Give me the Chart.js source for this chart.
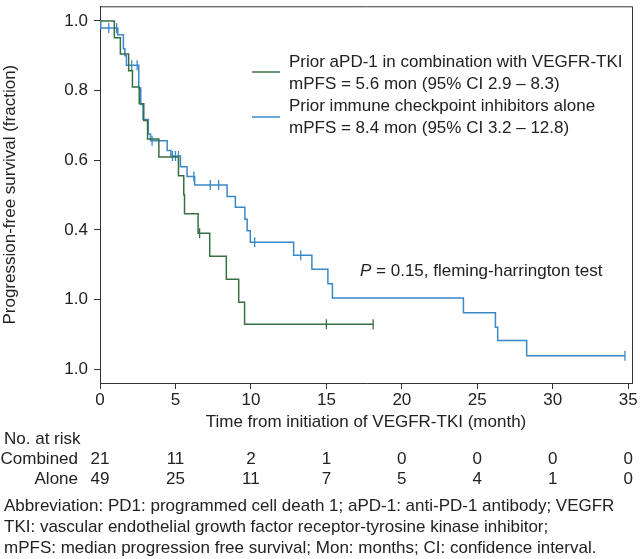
<!DOCTYPE html>
<html>
<head>
<meta charset="utf-8">
<script src="https://cdn.jsdelivr.net/npm/chart.js@4"></script>
<style>
  html, body { margin: 0; padding: 0; background: #fff; }
  #wrap { width: 640px; height: 559px; position: relative; }
</style>
</head>
<body>
<div id="wrap"><canvas id="km_chart"></canvas></div>
<script>
// Kaplan-Meier steps
const comboTimes = [0, 0.95, 1.35, 1.9, 2.15, 2.6, 2.9, 3.15, 3.9, 5.2, 5.55, 5.6, 6.5, 7.27, 8.37, 9.19, 9.58, 18.1];
const comboSurv = [1.0, 0.952, 0.905, 0.857, 0.81, 0.762, 0.714, 0.661, 0.609, 0.555, 0.501, 0.446, 0.39, 0.324, 0.258, 0.192, 0.129, 0.129];
const comboCensorTimes = [6.6, 15.0, 18.1];
const comboCensorSurv = [0.39, 0.129, 0.129];

const aloneTimes = [0, 0.05, 1.18, 1.55, 1.65, 1.75, 2.57, 2.7, 2.85, 3.2, 3.35, 4.45, 4.7, 5.33, 5.77, 6.27, 8.42, 8.97, 9.6, 9.75, 9.96, 12.83, 14.04, 15.1, 15.4, 24.08, 26.2, 26.35, 28.27, 34.78];
const aloneSurv = [1.0, 0.98, 0.96, 0.92, 0.9, 0.873, 0.807, 0.76, 0.717, 0.675, 0.656, 0.628, 0.612, 0.581, 0.553, 0.529, 0.496, 0.465, 0.43, 0.397, 0.364, 0.327, 0.287, 0.245, 0.204, 0.162, 0.12, 0.082, 0.038, 0.038];
const aloneCensorTimes = [0.58, 1.1, 2.1, 2.46, 3.45, 4.8, 5.0, 5.2, 6.22, 7.31, 7.86, 10.25, 13.3, 34.78];
const aloneCensorSurv = [0.98, 0.98, 0.873, 0.873, 0.656, 0.612, 0.612, 0.612, 0.553, 0.529, 0.529, 0.364, 0.327, 0.038];

// axis ticks (y labels are printed as in the original figure)
const xTicks = [0, 5, 10, 15, 20, 25, 30, 35];
const yTickValues = [0, 0.2, 0.4, 0.6, 0.8, 1.0];
const yTickLabels = ['1.0', '1.0', '0.4', '0.6', '0.8', '1.0'];

// number at risk table
const riskTimes = [0, 5, 10, 15, 20, 25, 30, 35];
const combinedAtRisk = [21, 11, 2, 1, 0, 0, 0, 0];
const aloneAtRisk = [49, 25, 11, 7, 5, 4, 1, 0];

const greenColor = '#386e44';
const blueColor = '#3a88c8';
const fontFamily = '"Liberation Sans", Arial, sans-serif';
const fontSize = 17;

function toPoints(xs, ys) {
    return xs.map((x, i) => ({ x: x, y: ys[i] }));
}

/**
 * draws frame, legend, p-value, risk table and footnote
 */
const extrasPlugin = {
    id: 'extras',
    afterDraw(chart) {
        const ctx = chart.ctx;
        const area = chart.chartArea;
        const xScale = chart.scales.x;
        ctx.save();
        // top and right frame
        ctx.strokeStyle = '#333';
        ctx.lineWidth = 1;
        ctx.beginPath();
        ctx.moveTo(area.left, area.top + 0.5);
        ctx.lineTo(area.right + 0.5, area.top + 0.5);
        ctx.lineTo(area.right + 0.5, area.bottom);
        ctx.stroke();

        // legend
        ctx.font = fontSize + 'px ' + fontFamily;
        ctx.fillStyle = '#222';
        ctx.textBaseline = 'middle';
        ctx.textAlign = 'left';
        ctx.lineWidth = 1.5;
        ctx.strokeStyle = greenColor;
        ctx.beginPath(); ctx.moveTo(252, 72); ctx.lineTo(280, 72); ctx.stroke();
        ctx.fillText('Prior aPD-1 in combination with VEGFR-TKI', 289, 62);
        ctx.fillText('mPFS = 5.6 mon (95% CI 2.9 – 8.3)', 289, 84);
        ctx.strokeStyle = blueColor;
        ctx.beginPath(); ctx.moveTo(252, 117); ctx.lineTo(280, 117); ctx.stroke();
        ctx.fillText('Prior immune checkpoint inhibitors alone', 289, 106);
        ctx.fillText('mPFS = 8.4 mon (95% CI 3.2 – 12.8)', 289, 128);

        // p value
        ctx.font = 'italic ' + fontSize + 'px ' + fontFamily;
        ctx.fillText('P', 360, 271);
        const pw = ctx.measureText('P').width;
        ctx.font = fontSize + 'px ' + fontFamily;
        ctx.fillText(' = 0.15, fleming-harrington test', 360 + pw, 271);

        // risk table
        ctx.fillText('No. at risk', 4, 439);
        ctx.textAlign = 'right';
        ctx.fillText('Combined', 78, 459);
        ctx.fillText('Alone', 78, 479);
        ctx.textAlign = 'center';
        riskTimes.forEach((t, i) => {
            const px = xScale.getPixelForValue(t);
            ctx.fillText(String(combinedAtRisk[i]), px, 459);
            ctx.fillText(String(aloneAtRisk[i]), px, 479);
        });

        // footnote
        ctx.textAlign = 'left';
        ctx.font = fontSize + 'px ' + fontFamily;
        ctx.fillText('Abbreviation: PD1: programmed cell death 1; aPD-1: anti-PD-1 antibody; VEGFR', 4, 506);
        ctx.fillText('TKI: vascular endothelial growth factor receptor-tyrosine kinase inhibitor;', 4, 527);
        ctx.fillText('mPFS: median progression free survival; Mon: months; CI: confidence interval.', 4, 548);
        ctx.restore();
    }
};

const kmConfig = {
    type: 'line',
    data: {
        datasets: [
            {
                label: 'Combined',
                data: toPoints(comboTimes, comboSurv),
                stepped: 'before',
                borderColor: greenColor,
                borderWidth: 1.5,
                pointRadius: 0,
                fill: false
            },
            {
                label: 'Alone',
                data: toPoints(aloneTimes, aloneSurv),
                stepped: 'before',
                borderColor: blueColor,
                borderWidth: 1.5,
                pointRadius: 0,
                fill: false
            },
            {
                label: 'Combined censored',
                type: 'scatter',
                data: toPoints(comboCensorTimes, comboCensorSurv),
                pointStyle: 'line',
                rotation: 90,
                radius: 5,
                borderColor: greenColor,
                borderWidth: 1.3
            },
            {
                label: 'Alone censored',
                type: 'scatter',
                data: toPoints(aloneCensorTimes, aloneCensorSurv),
                pointStyle: 'line',
                rotation: 90,
                radius: 5,
                borderColor: blueColor,
                borderWidth: 1.3
            }
        ]
    },
    options: {
        responsive: false,
        animation: false,
        layout: { padding: { left: 0, top: 1, right: 8, bottom: 126 } },
        scales: {
            x: {
                type: 'linear',
                min: 0,
                max: 35.25,
                afterBuildTicks: (scale) => { scale.ticks = xTicks.map(v => ({ value: v })); },
                afterFit: (scale) => { scale.height = 50; scale.paddingLeft = 0; scale.paddingRight = 0; },
                grid: { display: true, drawOnChartArea: false, drawTicks: true, tickLength: 6, color: '#333' },
                border: { display: true, color: '#333', width: 1 },
                ticks: { color: '#222', font: { family: fontFamily, size: fontSize }, padding: 1, maxRotation: 0 },
                title: { display: true, text: 'Time from initiation of VEGFR-TKI (month)', color: '#222', font: { family: fontFamily, size: fontSize }, padding: { top: 0, bottom: 0 } }
            },
            y: {
                min: -0.04,
                max: 1.042,
                afterBuildTicks: (scale) => { scale.ticks = yTickValues.map(v => ({ value: v })); },
                afterFit: (scale) => { scale.width = 100; scale.paddingTop = 0; scale.paddingBottom = 0; },
                grid: { display: true, drawOnChartArea: false, drawTicks: true, tickLength: 6, color: '#333' },
                border: { display: true, color: '#333', width: 1 },
                ticks: {
                    color: '#222',
                    font: { family: fontFamily, size: fontSize },
                    padding: 6,
                    callback: (value) => {
                        const i = yTickValues.findIndex(v => Math.abs(v - value) < 1e-6);
                        return i >= 0 ? yTickLabels[i] : '';
                    }
                },
                title: { display: true, text: 'Progression-free survival (fraction)', color: '#222', font: { family: fontFamily, size: fontSize }, padding: { top: 0, bottom: 4 } }
            }
        },
        plugins: {
            legend: { display: false },
            tooltip: { enabled: false }
        }
    },
    plugins: [extrasPlugin]
};

const canvas = document.getElementById('km_chart');
canvas.width = 640;
canvas.height = 559;
const kmChart = new Chart(canvas, kmConfig);
</script>
</body>
</html>
